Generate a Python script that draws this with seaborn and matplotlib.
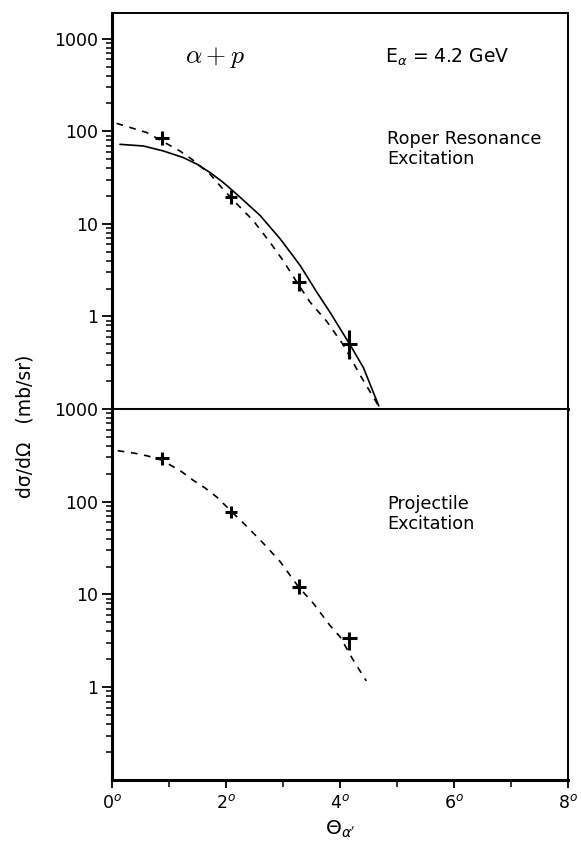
import numpy as np
import pandas as pd
import matplotlib
matplotlib.use("Agg")
import matplotlib.pyplot as plt
import matplotlib.ticker as mticker
import seaborn as sns

# ---------------- data ----------------
theta_pts = [0.88, 2.09, 3.28, 4.16]
theta_err = [0.12, 0.11, 0.13, 0.13]

roper_pts = [84, 19.4, 2.36, 0.50]
roper_err_lo = [13, 3.1, 0.47, 0.155]
roper_err_hi = [16, 3.6, 0.58, 0.22]

proj_pts = [294, 78, 12.1, 3.37]
proj_err_lo = [45, 11, 2.1, 0.85]
proj_err_hi = [52, 12.5, 2.5, 0.6]

roper_solid_theta = [0.14, 0.55, 0.90, 1.25, 1.49, 1.72, 1.95, 2.22, 2.60, 2.95,
                     3.30, 3.59, 3.82, 4.18, 4.41, 4.68]
roper_solid_vals = [72.4, 69.5, 61.4, 52.1, 44.2, 35.9, 28.1, 20.1, 12.3, 6.9,
                    3.56, 1.84, 1.12, 0.49, 0.28, 0.108]

roper_dash_theta = [0.08, 0.32, 0.61, 1.19, 1.40, 1.72, 1.92, 2.16, 2.48, 2.77,
                    3.00, 3.24, 3.47, 3.77, 4.06, 4.35, 4.66]
roper_dash_vals = [122, 110, 97, 61.4, 50, 34.5, 24.8, 17.2, 10.8, 6.35,
                   4.03, 2.36, 1.44, 0.88, 0.49, 0.234, 0.112]

proj_dash_theta = [0.10, 0.40, 0.63, 0.88, 1.22, 1.42, 1.63, 1.84, 2.10, 2.28, 2.63, 2.95,
                   3.27, 3.53, 3.82, 4.00, 4.23, 4.46]
proj_dash_vals = [355, 333, 311, 280, 211, 171, 141, 112, 78, 61, 37, 22.6,
                  12.1, 8.05, 4.66, 3.5, 1.97, 1.17]

x_ticks = [0, 2, 4, 6, 8]
x_ticklabels = ["0$^o$", "2$^o$", "4$^o$", "6$^o$", "8$^o$"]
y_ticks = [1, 10, 100, 1000]
y_ticklabels = ["1", "10", "100", "1000"]

# ---------------- style ----------------
sns.set_theme(style="ticks")
plt.rcParams["font.family"] = ["DejaVu Sans"]
plt.rcParams["mathtext.fontset"] = "dejavusans"
plt.rcParams["text.color"] = "black"
plt.rcParams["xtick.color"] = "black"
plt.rcParams["ytick.color"] = "black"
plt.rcParams["axes.labelcolor"] = "black"

fig = plt.figure(figsize=(5.81, 8.5), dpi=100)
ax_top = fig.add_axes([0.1928, 0.5188, 0.7849, 0.4659])
ax_bot = fig.add_axes([0.1928, 0.08235, 0.7849, 0.4365])

df_solid = pd.DataFrame({"theta": roper_solid_theta, "xs": roper_solid_vals})
df_rdash = pd.DataFrame({"theta": roper_dash_theta, "xs": roper_dash_vals})
df_pdash = pd.DataFrame({"theta": proj_dash_theta, "xs": proj_dash_vals})

sns.lineplot(data=df_solid, x="theta", y="xs", ax=ax_top, color="black",
             linewidth=1.2, sort=False, estimator=None)
sns.lineplot(data=df_rdash, x="theta", y="xs", ax=ax_top, color="black",
             linewidth=1.2, sort=False, estimator=None)
ax_top.lines[-1].set_dashes([4, 4])
sns.lineplot(data=df_pdash, x="theta", y="xs", ax=ax_bot, color="black",
             linewidth=1.2, sort=False, estimator=None)
ax_bot.lines[-1].set_dashes([4, 4])

ax_top.errorbar(theta_pts, roper_pts, xerr=theta_err,
                yerr=[roper_err_lo, roper_err_hi], fmt="none",
                ecolor="black", elinewidth=2.2, capsize=0)
ax_bot.errorbar(theta_pts, proj_pts, xerr=theta_err,
                yerr=[proj_err_lo, proj_err_hi], fmt="none",
                ecolor="black", elinewidth=2.2, capsize=0)

for ax, ylim in ((ax_top, (0.1, 1900)), (ax_bot, (0.1, 1000))):
    ax.set_yscale("log")
    ax.set_ylim(*ylim)
    ax.set_xlim(0, 8)
    ax.set_xlabel("")
    ax.set_ylabel("")
    ax.yaxis.set_major_locator(mticker.FixedLocator(y_ticks))
    ax.yaxis.set_major_formatter(mticker.FixedFormatter(y_ticklabels))
    ax.yaxis.set_minor_locator(mticker.LogLocator(base=10, subs=np.arange(2, 10)))
    ax.yaxis.set_minor_formatter(mticker.NullFormatter())
    ax.set_xticks(x_ticks)
    ax.xaxis.set_minor_locator(mticker.MultipleLocator(1))
    ax.tick_params(axis="y", which="major", direction="out", length=7, width=1.3,
                   labelsize=12.5, pad=3, right=False, colors="black")
    ax.tick_params(axis="y", which="minor", direction="out", length=4.5, width=1.1,
                   right=False, colors="black")
    ax.tick_params(axis="x", which="major", direction="out", length=6, width=1.3,
                   top=False, colors="black")
    ax.tick_params(axis="x", which="minor", direction="out", length=5, width=1.1,
                   top=False, colors="black")
    for s in ("left", "bottom"):
        ax.spines[s].set_linewidth(2.2)
    for s in ("top", "right"):
        ax.spines[s].set_linewidth(1.4)
    for s in ax.spines.values():
        s.set_color("black")
    ax.set_facecolor("white")

ax_top.tick_params(axis="x", labelbottom=False)
ax_bot.set_xticklabels(x_ticklabels, fontsize=12.5)
ax_bot.tick_params(axis="x", which="major", pad=4)

# annotations
ax_top.text(0.226, 0.889, r"$\alpha + p$", transform=ax_top.transAxes,
            ha="center", va="center", fontsize=18.5, math_fontfamily="cm")
ax_top.text(0.599, 0.889, r"E$_\alpha$ = 4.2 GeV", transform=ax_top.transAxes,
            ha="left", va="center", fontsize=13.5)
ax_top.text(0.603, 0.705, "Roper Resonance\nExcitation", transform=ax_top.transAxes,
            ha="left", va="top", fontsize=12.7, linespacing=1.15)
ax_bot.text(0.603, 0.768, "Projectile\nExcitation", transform=ax_bot.transAxes,
            ha="left", va="top", fontsize=12.7, linespacing=1.15)

ax_bot.set_xlabel(r"$\Theta_{\alpha'}$", fontsize=14.5, labelpad=5)
fig.text(0.043, 0.498, "d\u03c3/d\u03a9   (mb/sr)", rotation=90,
         ha="center", va="center", fontsize=13.5)

fig.savefig("out.png", dpi=100, facecolor="white")
